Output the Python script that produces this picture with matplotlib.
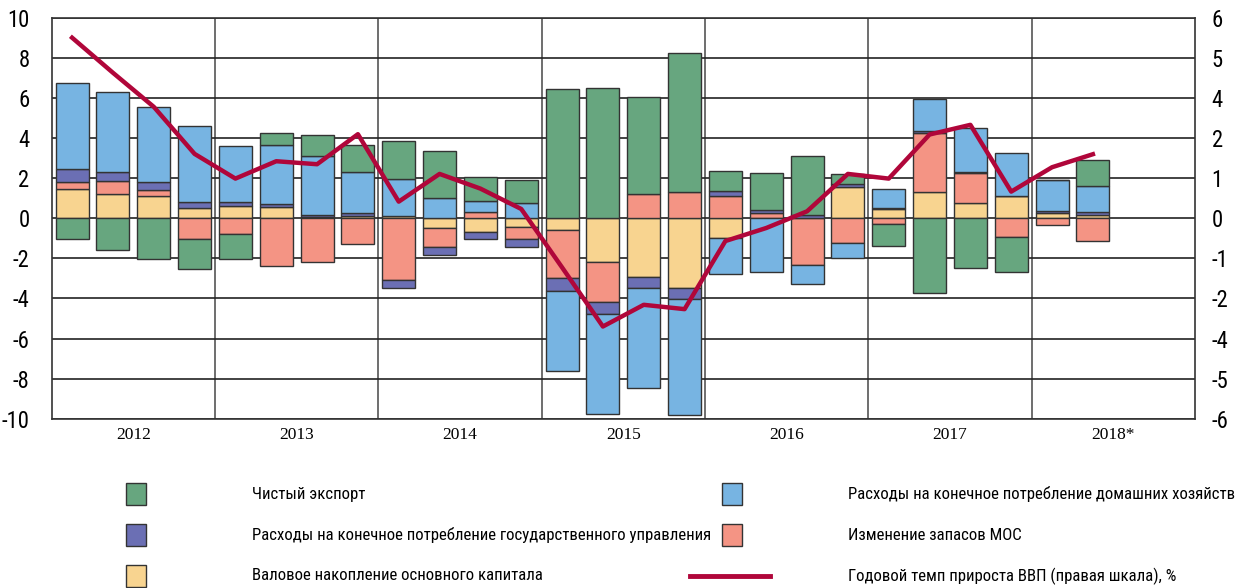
import numpy as np
import matplotlib.pyplot as plt
from matplotlib import font_manager as fm
from matplotlib.patches import Rectangle
from matplotlib.lines import Line2D

plt.rcParams['axes.unicode_minus'] = False

# pick a narrow sans font if there is one
fonts = fm.fontManager.ttflist
names = {f.name for f in fonts}
narrow = {'family': ['DejaVu Sans'], 'stretch': 'normal'}
for cand in ['Liberation Sans Narrow', 'Roboto Condensed', 'Open Sans Condensed', 'Noto Sans Condensed']:
    if cand in names:
        narrow = {'family': [cand, 'DejaVu Sans'], 'stretch': 'normal'}
        break
else:
    for fam in ['Liberation Sans', 'Noto Sans', 'Roboto', 'Open Sans', 'DejaVu Sans']:
        if any(f.name == fam and f.stretch in ('condensed', 'semi-condensed', 'extra-condensed', 75, 87)
               for f in fonts):
            narrow = {'family': [fam, 'DejaVu Sans'], 'stretch': 'condensed'}
            break
serif = ['Liberation Serif', 'DejaVu Serif']

years = ['2012', '2013', '2014', '2015', '2016', '2017', '2018*']

# components of GDP growth, p.p. (26 quarters, 2012Q1..2018Q2)
gross_capital = [1.48, 1.23, 1.13, 0.5,
                 0.6, 0.57, 0.07, 0.12,
                 0.13, -0.48, -0.68, -0.43,
                 -0.57, -2.2, -2.93, -3.5,
                 -0.98, 0.0, 0.0, 1.57,
                 0.47, 1.32, 0.77, 1.1,
                 0.27, 0.15]
inventories = [0.32, 0.62, 0.27, -1.03,
               -0.78, -2.37, -2.2, -1.27,
               -3.1, -0.95, 0.32, -0.6,
               -2.43, -2.0, 1.2, 1.3,
               1.13, 0.27, -2.33, -1.23,
               -0.27, 2.95, 1.48, -0.93,
               -0.35, -1.12]
government = [0.67, 0.48, 0.43, 0.33,
              0.2, 0.16, 0.08, 0.15,
              -0.38, -0.4, -0.35, -0.4,
              -0.65, -0.58, -0.55, -0.53,
              0.22, 0.13, 0.15, 0.16,
              0.05, 0.1, 0.08, 0.03,
              0.1, 0.17]
households = [4.3, 3.97, 3.75, 3.77,
              2.8, 2.92, 2.98, 2.05,
              1.83, 1.0, 0.55, 0.77,
              -3.95, -5.0, -4.97, -5.78,
              -1.8, -2.7, -0.95, -0.75,
              0.95, 1.6, 2.18, 2.15,
              1.52, 1.28]
net_export = [-1.03, -1.6, -2.03, -1.5,
              -1.25, 0.62, 1.02, 1.36,
              1.88, 2.35, 1.2, 1.15,
              6.47, 6.53, 4.85, 6.95,
              1.02, 1.87, 2.98, 0.5,
              -1.13, -3.73, -2.5, -1.75,
              0.03, 1.3]
# GDP growth, % y/y (right scale)
gdp = [5.41, 4.36, 3.34, 1.93,
       1.19, 1.71, 1.62, 2.52,
       0.5, 1.33, 0.89, 0.28,
       -1.47, -3.24, -2.59, -2.72,
       -0.68, -0.29, 0.21, 1.33,
       1.19, 2.51, 2.8, 0.8,
       1.53, 1.92]

labels = ['Валовое накопление основного капитала',
          'Изменение запасов МОС',
          'Расходы на конечное потребление государственного управления',
          'Расходы на конечное потребление домашних хозяйств',
          'Чистый экспорт']
colors = ['#f8d490', '#f49484', '#6b6fb4', '#77b4e2', '#67a67f']
series = [gross_capital, inventories, government, households, net_export]

x = np.arange(len(gdp))

fig = plt.figure(figsize=(12.48, 5.88), dpi=100)
renderer = fig.canvas.get_renderer()

def fit_size(text, width_px, start):
    t = fig.text(0, 0, text, fontsize=start, **narrow)
    w = t.get_window_extent(renderer).width
    t.remove()
    return start * width_px / w

tick_fs = min(17, fit_size('-10', 28, 17))
leg_fs = min(14, fit_size(labels[2], 462, 14))

ax = fig.add_axes([0.0414, 0.288, 0.9161, 0.6814])

pos = np.zeros(len(x))
neg = np.zeros(len(x))
for vals, c in zip(series, colors):
    v = np.array(vals)
    bottom = np.where(v >= 0, pos, neg)
    ax.bar(x, v, 0.81, bottom=bottom, color=c, edgecolor='#333333', linewidth=1, zorder=3)
    pos = pos + np.clip(v, 0, None)
    neg = neg + np.clip(v, None, 0)

ax.set_xlim(-0.5, 27.5)
ax.set_ylim(-10, 10)
ax.set_yticks(np.arange(-10, 11, 2))
ax.grid(axis='y', color='#222222', linewidth=1.2, zorder=1)
for i in range(1, 7):
    ax.axvline(i * 4 - 0.5, color='#555555', linewidth=1.2, zorder=1)
ax.set_xticks([i * 4 + 1.5 for i in range(7)])
ax.set_xticklabels(years, fontfamily=serif, fontsize=12.5)
ax.tick_params(axis='x', length=0, pad=6)
ax.tick_params(axis='y', length=0, pad=16)
for t in ax.get_yticklabels():
    t.set_fontfamily(narrow['family'])
    t.set_fontstretch(narrow['stretch'])
    t.set_fontsize(tick_fs)
for s in ax.spines.values():
    s.set_color('#333333')
    s.set_linewidth(1.2)

ax2 = ax.twinx()
ax2.plot(x, gdp, color='#b0063a', linewidth=3.2, zorder=5)
ax2.set_ylim(-6, 6)
rt = np.linspace(-6, 6, 11)
ax2.set_yticks(rt)
ax2.set_yticklabels(['%.0f' % v for v in rt], fontsize=tick_fs,
                    fontfamily=narrow['family'], fontstretch=narrow['stretch'])
ax2.tick_params(axis='y', length=0, pad=12)
for s in ax2.spines.values():
    s.set_visible(False)

# legend, laid out by hand
W, H = 1248.0, 588.0
def legend_patch(px, py, c, text, tx):
    fig.add_artist(Rectangle((px / W, 1 - (py + 11) / H), 20 / W, 22 / H,
                             facecolor=c, edgecolor='#333333', linewidth=1,
                             transform=fig.transFigure))
    fig.text(tx / W, 1 - py / H, text, fontsize=leg_fs, va='center', ha='left', **narrow)

legend_patch(126, 494, colors[4], labels[4], 252)
legend_patch(126, 535, colors[2], labels[2], 252)
legend_patch(126, 576, colors[0], labels[0], 252)
legend_patch(722, 494, colors[3], labels[3], 848)
legend_patch(722, 535, colors[1], labels[1], 848)
fig.add_artist(Line2D([690 / W, 770 / W], [1 - 576 / H, 1 - 576 / H], color='#b0063a',
                      linewidth=3.5, transform=fig.transFigure))
fig.text(848 / W, 1 - 576 / H, 'Годовой темп прироста ВВП (правая шкала), %',
         fontsize=leg_fs, va='center', ha='left', **narrow)

fig.savefig('out.png', dpi=100)
